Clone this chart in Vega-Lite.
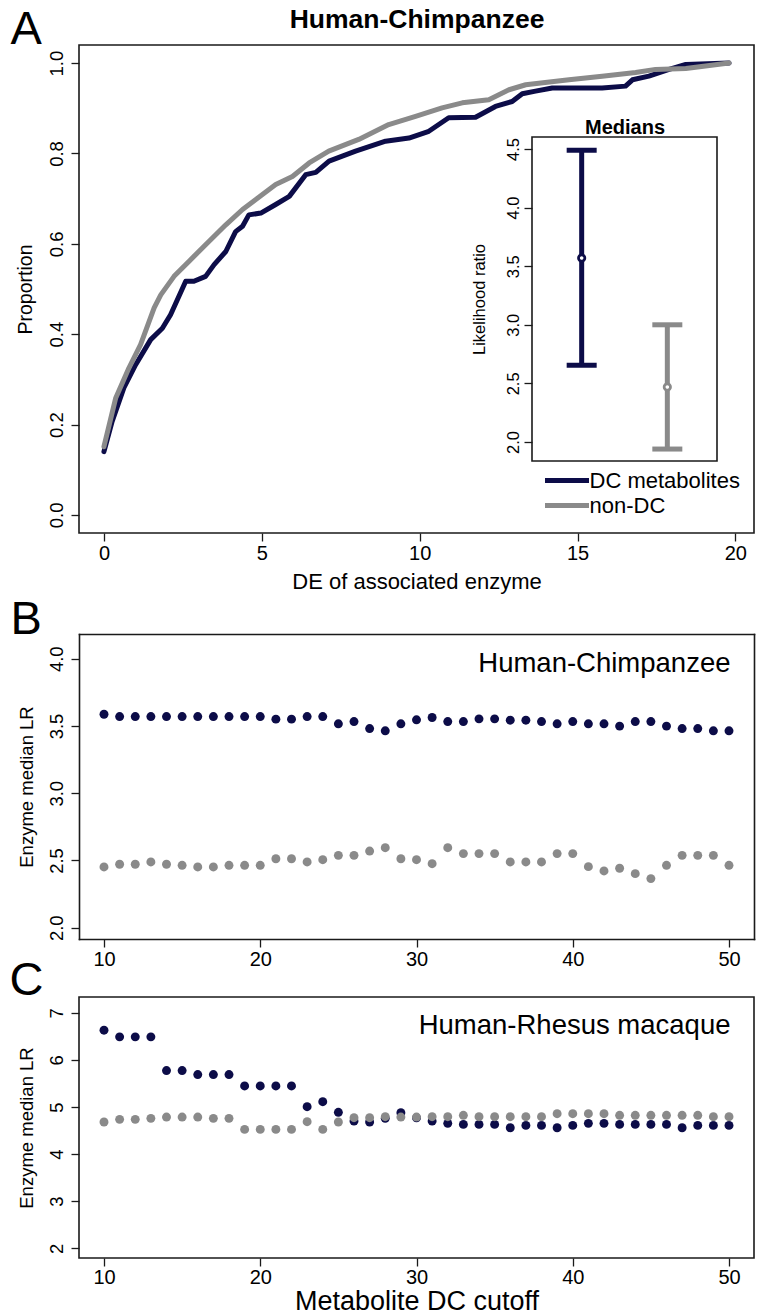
{
  "$schema": "https://vega.github.io/schema/vega-lite/v6.json",
  "background": "white",
  "padding": {"left": 8, "top": 4, "right": 6, "bottom": 1},
  "config": {
    "font": "Liberation Sans",
    "view": {"stroke": "#1a1a1a", "strokeWidth": 1.6},
    "axis": {"domain": false, "domainColor": "#1a1a1a", "domainWidth": 1.6, "domainCap": "square", "grid": false, "ticks": true, "tickColor": "#1a1a1a", "tickWidth": 1.3, "tickSize": 8, "labelColor": "black", "titleColor": "black", "labelFont": "Liberation Sans", "titleFont": "Liberation Sans", "titleFontWeight": "normal"},
    "legend": {"labelFont": "Liberation Sans", "labelColor": "black"}
  },
  "datasets": {
    "ecdf": [
      {"group": "DC metabolites", "de": 0, "prop": 0.140},
      {"group": "DC metabolites", "de": 0.26, "prop": 0.207},
      {"group": "DC metabolites", "de": 0.63, "prop": 0.281},
      {"group": "DC metabolites", "de": 1.0, "prop": 0.332},
      {"group": "DC metabolites", "de": 1.48, "prop": 0.388},
      {"group": "DC metabolites", "de": 1.85, "prop": 0.413},
      {"group": "DC metabolites", "de": 2.11, "prop": 0.443},
      {"group": "DC metabolites", "de": 2.59, "prop": 0.517},
      {"group": "DC metabolites", "de": 2.85, "prop": 0.517},
      {"group": "DC metabolites", "de": 3.22, "prop": 0.528},
      {"group": "DC metabolites", "de": 3.49, "prop": 0.554},
      {"group": "DC metabolites", "de": 3.86, "prop": 0.583},
      {"group": "DC metabolites", "de": 4.17, "prop": 0.627},
      {"group": "DC metabolites", "de": 4.39, "prop": 0.639},
      {"group": "DC metabolites", "de": 4.59, "prop": 0.664},
      {"group": "DC metabolites", "de": 4.97, "prop": 0.668},
      {"group": "DC metabolites", "de": 5.44, "prop": 0.687},
      {"group": "DC metabolites", "de": 5.87, "prop": 0.705},
      {"group": "DC metabolites", "de": 6.39, "prop": 0.753},
      {"group": "DC metabolites", "de": 6.71, "prop": 0.758},
      {"group": "DC metabolites", "de": 7.13, "prop": 0.783},
      {"group": "DC metabolites", "de": 7.97, "prop": 0.805},
      {"group": "DC metabolites", "de": 8.92, "prop": 0.827},
      {"group": "DC metabolites", "de": 9.66, "prop": 0.834},
      {"group": "DC metabolites", "de": 10.29, "prop": 0.849},
      {"group": "DC metabolites", "de": 10.92, "prop": 0.879},
      {"group": "DC metabolites", "de": 11.77, "prop": 0.880},
      {"group": "DC metabolites", "de": 12.40, "prop": 0.904},
      {"group": "DC metabolites", "de": 12.93, "prop": 0.915},
      {"group": "DC metabolites", "de": 13.25, "prop": 0.932},
      {"group": "DC metabolites", "de": 13.67, "prop": 0.938},
      {"group": "DC metabolites", "de": 14.20, "prop": 0.945},
      {"group": "DC metabolites", "de": 15.78, "prop": 0.945},
      {"group": "DC metabolites", "de": 16.52, "prop": 0.949},
      {"group": "DC metabolites", "de": 16.74, "prop": 0.963},
      {"group": "DC metabolites", "de": 17.26, "prop": 0.971},
      {"group": "DC metabolites", "de": 17.90, "prop": 0.986},
      {"group": "DC metabolites", "de": 18.43, "prop": 0.997},
      {"group": "DC metabolites", "de": 19.80, "prop": 1.0},
      {"group": "non-DC", "de": 0, "prop": 0.151},
      {"group": "non-DC", "de": 0.37, "prop": 0.258},
      {"group": "non-DC", "de": 0.79, "prop": 0.325},
      {"group": "non-DC", "de": 1.16, "prop": 0.377},
      {"group": "non-DC", "de": 1.59, "prop": 0.458},
      {"group": "non-DC", "de": 1.80, "prop": 0.487},
      {"group": "non-DC", "de": 2.22, "prop": 0.528},
      {"group": "non-DC", "de": 2.69, "prop": 0.561},
      {"group": "non-DC", "de": 3.22, "prop": 0.598},
      {"group": "non-DC", "de": 3.86, "prop": 0.642},
      {"group": "non-DC", "de": 4.39, "prop": 0.676},
      {"group": "non-DC", "de": 5.02, "prop": 0.709},
      {"group": "non-DC", "de": 5.44, "prop": 0.731},
      {"group": "non-DC", "de": 5.97, "prop": 0.749},
      {"group": "non-DC", "de": 6.50, "prop": 0.779},
      {"group": "non-DC", "de": 7.12, "prop": 0.805},
      {"group": "non-DC", "de": 8.07, "prop": 0.831},
      {"group": "non-DC", "de": 9.02, "prop": 0.864},
      {"group": "non-DC", "de": 9.87, "prop": 0.882},
      {"group": "non-DC", "de": 10.71, "prop": 0.901},
      {"group": "non-DC", "de": 11.35, "prop": 0.912},
      {"group": "non-DC", "de": 12.19, "prop": 0.919},
      {"group": "non-DC", "de": 12.83, "prop": 0.941},
      {"group": "non-DC", "de": 13.36, "prop": 0.952},
      {"group": "non-DC", "de": 14.73, "prop": 0.963},
      {"group": "non-DC", "de": 15.78, "prop": 0.971},
      {"group": "non-DC", "de": 16.84, "prop": 0.979},
      {"group": "non-DC", "de": 17.47, "prop": 0.986},
      {"group": "non-DC", "de": 18.43, "prop": 0.988},
      {"group": "non-DC", "de": 19.80, "prop": 1.0}
    ],
    "medians": [
      {"group": "DC metabolites", "pos": 1, "med": 3.57, "lo": 2.655, "hi": 4.49},
      {"group": "non-DC", "pos": 2, "med": 2.47, "lo": 1.94, "hi": 3.0}
    ],
    "panelB": [
      {"cutoff": 10, "group": "DC metabolites", "lr": 3.587},
      {"cutoff": 11, "group": "DC metabolites", "lr": 3.570},
      {"cutoff": 12, "group": "DC metabolites", "lr": 3.570},
      {"cutoff": 13, "group": "DC metabolites", "lr": 3.570},
      {"cutoff": 14, "group": "DC metabolites", "lr": 3.570},
      {"cutoff": 15, "group": "DC metabolites", "lr": 3.570},
      {"cutoff": 16, "group": "DC metabolites", "lr": 3.570},
      {"cutoff": 17, "group": "DC metabolites", "lr": 3.570},
      {"cutoff": 18, "group": "DC metabolites", "lr": 3.570},
      {"cutoff": 19, "group": "DC metabolites", "lr": 3.570},
      {"cutoff": 20, "group": "DC metabolites", "lr": 3.570},
      {"cutoff": 21, "group": "DC metabolites", "lr": 3.551},
      {"cutoff": 22, "group": "DC metabolites", "lr": 3.551},
      {"cutoff": 23, "group": "DC metabolites", "lr": 3.570},
      {"cutoff": 24, "group": "DC metabolites", "lr": 3.570},
      {"cutoff": 25, "group": "DC metabolites", "lr": 3.516},
      {"cutoff": 26, "group": "DC metabolites", "lr": 3.533},
      {"cutoff": 27, "group": "DC metabolites", "lr": 3.481},
      {"cutoff": 28, "group": "DC metabolites", "lr": 3.464},
      {"cutoff": 29, "group": "DC metabolites", "lr": 3.516},
      {"cutoff": 30, "group": "DC metabolites", "lr": 3.546},
      {"cutoff": 31, "group": "DC metabolites", "lr": 3.563},
      {"cutoff": 32, "group": "DC metabolites", "lr": 3.533},
      {"cutoff": 33, "group": "DC metabolites", "lr": 3.533},
      {"cutoff": 34, "group": "DC metabolites", "lr": 3.553},
      {"cutoff": 35, "group": "DC metabolites", "lr": 3.553},
      {"cutoff": 36, "group": "DC metabolites", "lr": 3.543},
      {"cutoff": 37, "group": "DC metabolites", "lr": 3.543},
      {"cutoff": 38, "group": "DC metabolites", "lr": 3.533},
      {"cutoff": 39, "group": "DC metabolites", "lr": 3.516},
      {"cutoff": 40, "group": "DC metabolites", "lr": 3.533},
      {"cutoff": 41, "group": "DC metabolites", "lr": 3.516},
      {"cutoff": 42, "group": "DC metabolites", "lr": 3.516},
      {"cutoff": 43, "group": "DC metabolites", "lr": 3.499},
      {"cutoff": 44, "group": "DC metabolites", "lr": 3.533},
      {"cutoff": 45, "group": "DC metabolites", "lr": 3.533},
      {"cutoff": 46, "group": "DC metabolites", "lr": 3.499},
      {"cutoff": 47, "group": "DC metabolites", "lr": 3.481},
      {"cutoff": 48, "group": "DC metabolites", "lr": 3.481},
      {"cutoff": 49, "group": "DC metabolites", "lr": 3.464},
      {"cutoff": 50, "group": "DC metabolites", "lr": 3.464},
      {"cutoff": 10, "group": "non-DC", "lr": 2.452},
      {"cutoff": 11, "group": "non-DC", "lr": 2.472},
      {"cutoff": 12, "group": "non-DC", "lr": 2.472},
      {"cutoff": 13, "group": "non-DC", "lr": 2.489},
      {"cutoff": 14, "group": "non-DC", "lr": 2.472},
      {"cutoff": 15, "group": "non-DC", "lr": 2.464},
      {"cutoff": 16, "group": "non-DC", "lr": 2.452},
      {"cutoff": 17, "group": "non-DC", "lr": 2.452},
      {"cutoff": 18, "group": "non-DC", "lr": 2.464},
      {"cutoff": 19, "group": "non-DC", "lr": 2.464},
      {"cutoff": 20, "group": "non-DC", "lr": 2.464},
      {"cutoff": 21, "group": "non-DC", "lr": 2.513},
      {"cutoff": 22, "group": "non-DC", "lr": 2.513},
      {"cutoff": 23, "group": "non-DC", "lr": 2.489},
      {"cutoff": 24, "group": "non-DC", "lr": 2.506},
      {"cutoff": 25, "group": "non-DC", "lr": 2.538},
      {"cutoff": 26, "group": "non-DC", "lr": 2.538},
      {"cutoff": 27, "group": "non-DC", "lr": 2.570},
      {"cutoff": 28, "group": "non-DC", "lr": 2.595},
      {"cutoff": 29, "group": "non-DC", "lr": 2.513},
      {"cutoff": 30, "group": "non-DC", "lr": 2.506},
      {"cutoff": 31, "group": "non-DC", "lr": 2.476},
      {"cutoff": 32, "group": "non-DC", "lr": 2.595},
      {"cutoff": 33, "group": "non-DC", "lr": 2.551},
      {"cutoff": 34, "group": "non-DC", "lr": 2.551},
      {"cutoff": 35, "group": "non-DC", "lr": 2.551},
      {"cutoff": 36, "group": "non-DC", "lr": 2.489},
      {"cutoff": 37, "group": "non-DC", "lr": 2.489},
      {"cutoff": 38, "group": "non-DC", "lr": 2.489},
      {"cutoff": 39, "group": "non-DC", "lr": 2.551},
      {"cutoff": 40, "group": "non-DC", "lr": 2.551},
      {"cutoff": 41, "group": "non-DC", "lr": 2.454},
      {"cutoff": 42, "group": "non-DC", "lr": 2.422},
      {"cutoff": 43, "group": "non-DC", "lr": 2.442},
      {"cutoff": 44, "group": "non-DC", "lr": 2.402},
      {"cutoff": 45, "group": "non-DC", "lr": 2.365},
      {"cutoff": 46, "group": "non-DC", "lr": 2.464},
      {"cutoff": 47, "group": "non-DC", "lr": 2.538},
      {"cutoff": 48, "group": "non-DC", "lr": 2.538},
      {"cutoff": 49, "group": "non-DC", "lr": 2.538},
      {"cutoff": 50, "group": "non-DC", "lr": 2.464}
    ],
    "panelC": [
      {"cutoff": 10, "group": "DC metabolites", "lr": 6.631},
      {"cutoff": 11, "group": "DC metabolites", "lr": 6.489},
      {"cutoff": 12, "group": "DC metabolites", "lr": 6.489},
      {"cutoff": 13, "group": "DC metabolites", "lr": 6.489},
      {"cutoff": 14, "group": "DC metabolites", "lr": 5.773},
      {"cutoff": 15, "group": "DC metabolites", "lr": 5.773},
      {"cutoff": 16, "group": "DC metabolites", "lr": 5.688},
      {"cutoff": 17, "group": "DC metabolites", "lr": 5.688},
      {"cutoff": 18, "group": "DC metabolites", "lr": 5.688},
      {"cutoff": 19, "group": "DC metabolites", "lr": 5.447},
      {"cutoff": 20, "group": "DC metabolites", "lr": 5.447},
      {"cutoff": 21, "group": "DC metabolites", "lr": 5.447},
      {"cutoff": 22, "group": "DC metabolites", "lr": 5.447},
      {"cutoff": 23, "group": "DC metabolites", "lr": 5.007},
      {"cutoff": 24, "group": "DC metabolites", "lr": 5.113},
      {"cutoff": 25, "group": "DC metabolites", "lr": 4.887},
      {"cutoff": 26, "group": "DC metabolites", "lr": 4.702},
      {"cutoff": 27, "group": "DC metabolites", "lr": 4.681},
      {"cutoff": 28, "group": "DC metabolites", "lr": 4.760},
      {"cutoff": 29, "group": "DC metabolites", "lr": 4.879},
      {"cutoff": 30, "group": "DC metabolites", "lr": 4.770},
      {"cutoff": 31, "group": "DC metabolites", "lr": 4.702},
      {"cutoff": 32, "group": "DC metabolites", "lr": 4.653},
      {"cutoff": 33, "group": "DC metabolites", "lr": 4.631},
      {"cutoff": 34, "group": "DC metabolites", "lr": 4.631},
      {"cutoff": 35, "group": "DC metabolites", "lr": 4.631},
      {"cutoff": 36, "group": "DC metabolites", "lr": 4.560},
      {"cutoff": 37, "group": "DC metabolites", "lr": 4.610},
      {"cutoff": 38, "group": "DC metabolites", "lr": 4.610},
      {"cutoff": 39, "group": "DC metabolites", "lr": 4.560},
      {"cutoff": 40, "group": "DC metabolites", "lr": 4.610},
      {"cutoff": 41, "group": "DC metabolites", "lr": 4.653},
      {"cutoff": 42, "group": "DC metabolites", "lr": 4.653},
      {"cutoff": 43, "group": "DC metabolites", "lr": 4.631},
      {"cutoff": 44, "group": "DC metabolites", "lr": 4.631},
      {"cutoff": 45, "group": "DC metabolites", "lr": 4.631},
      {"cutoff": 46, "group": "DC metabolites", "lr": 4.631},
      {"cutoff": 47, "group": "DC metabolites", "lr": 4.560},
      {"cutoff": 48, "group": "DC metabolites", "lr": 4.610},
      {"cutoff": 49, "group": "DC metabolites", "lr": 4.610},
      {"cutoff": 50, "group": "DC metabolites", "lr": 4.610},
      {"cutoff": 10, "group": "non-DC", "lr": 4.681},
      {"cutoff": 11, "group": "non-DC", "lr": 4.738},
      {"cutoff": 12, "group": "non-DC", "lr": 4.738},
      {"cutoff": 13, "group": "non-DC", "lr": 4.759},
      {"cutoff": 14, "group": "non-DC", "lr": 4.787},
      {"cutoff": 15, "group": "non-DC", "lr": 4.787},
      {"cutoff": 16, "group": "non-DC", "lr": 4.787},
      {"cutoff": 17, "group": "non-DC", "lr": 4.759},
      {"cutoff": 18, "group": "non-DC", "lr": 4.759},
      {"cutoff": 19, "group": "non-DC", "lr": 4.525},
      {"cutoff": 20, "group": "non-DC", "lr": 4.525},
      {"cutoff": 21, "group": "non-DC", "lr": 4.525},
      {"cutoff": 22, "group": "non-DC", "lr": 4.525},
      {"cutoff": 23, "group": "non-DC", "lr": 4.688},
      {"cutoff": 24, "group": "non-DC", "lr": 4.525},
      {"cutoff": 25, "group": "non-DC", "lr": 4.681},
      {"cutoff": 26, "group": "non-DC", "lr": 4.773},
      {"cutoff": 27, "group": "non-DC", "lr": 4.773},
      {"cutoff": 28, "group": "non-DC", "lr": 4.794},
      {"cutoff": 29, "group": "non-DC", "lr": 4.787},
      {"cutoff": 30, "group": "non-DC", "lr": 4.787},
      {"cutoff": 31, "group": "non-DC", "lr": 4.794},
      {"cutoff": 32, "group": "non-DC", "lr": 4.794},
      {"cutoff": 33, "group": "non-DC", "lr": 4.823},
      {"cutoff": 34, "group": "non-DC", "lr": 4.794},
      {"cutoff": 35, "group": "non-DC", "lr": 4.794},
      {"cutoff": 36, "group": "non-DC", "lr": 4.794},
      {"cutoff": 37, "group": "non-DC", "lr": 4.794},
      {"cutoff": 38, "group": "non-DC", "lr": 4.794},
      {"cutoff": 39, "group": "non-DC", "lr": 4.858},
      {"cutoff": 40, "group": "non-DC", "lr": 4.858},
      {"cutoff": 41, "group": "non-DC", "lr": 4.858},
      {"cutoff": 42, "group": "non-DC", "lr": 4.858},
      {"cutoff": 43, "group": "non-DC", "lr": 4.823},
      {"cutoff": 44, "group": "non-DC", "lr": 4.823},
      {"cutoff": 45, "group": "non-DC", "lr": 4.823},
      {"cutoff": 46, "group": "non-DC", "lr": 4.823},
      {"cutoff": 47, "group": "non-DC", "lr": 4.823},
      {"cutoff": 48, "group": "non-DC", "lr": 4.823},
      {"cutoff": 49, "group": "non-DC", "lr": 4.794},
      {"cutoff": 50, "group": "non-DC", "lr": 4.794}
    ]
  },
  "bounds": "flush",
  "spacing": 58,
  "vconcat": [
    {
      "width": 675,
      "height": 488,
      "layer": [
        {
          "data": {"name": "ecdf"},
          "transform": [{"filter": "datum.group === 'DC metabolites'"}],
          "mark": {"type": "line", "strokeWidth": 5, "strokeCap": "round", "strokeJoin": "round"},
          "encoding": {
            "x": {"field": "de", "type": "quantitative", "scale": {"domain": [-0.79, 20.59], "nice": false, "zero": false},
              "axis": {"orient": "bottom", "values": [0, 5, 10, 15, 20], "title": "DE of associated enzyme", "titleFontSize": 22, "titleY": 55, "titleBaseline": "alphabetic", "labelFontSize": 20, "labelPadding": 18, "labelBaseline": "alphabetic"}},
            "y": {"field": "prop", "type": "quantitative", "scale": {"domain": [-0.04, 1.04], "nice": false, "zero": false},
              "axis": {"orient": "left", "values": [0, 0.2, 0.4, 0.6, 0.8, 1.0], "format": ".1f", "labelFontSize": 18.5, "labelAngle": -90, "labelAlign": "center", "labelBaseline": "alphabetic", "labelPadding": 9, "title": "Proportion", "titleFontSize": 19.5, "titleAngle": -90, "titleX": -48, "titleY": 244, "titleAlign": "center", "titleBaseline": "alphabetic"}},
            "color": {"field": "group", "type": "nominal",
              "scale": {"domain": ["DC metabolites", "non-DC"], "range": ["#0c0c48", "#8a8a8a"]},
              "legend": {"title": null, "orient": "none", "legendX": 466, "legendY": 422, "padding": 0, "symbolType": "M-2,0L2,0", "symbolSize": 484, "symbolOffset": 8.5, "symbolStrokeWidth": 5, "labelFontSize": 22, "labelOffset": 9, "rowPadding": 0}}
          }
        },
        {
          "data": {"name": "ecdf"},
          "transform": [{"filter": "datum.group === 'non-DC'"}],
          "mark": {"type": "line", "strokeWidth": 5, "strokeCap": "round", "strokeJoin": "round"},
          "encoding": {
            "x": {"field": "de", "type": "quantitative", "scale": {"domain": [-0.79, 20.59], "nice": false, "zero": false},
              "axis": {"orient": "top", "labels": false, "ticks": false, "domain": false, "title": "Human-Chimpanzee", "titleFontSize": 26.5, "titleFontWeight": "bold", "titleY": -18, "titleBaseline": "alphabetic"}},
            "y": {"field": "prop", "type": "quantitative", "scale": {"domain": [-0.04, 1.04], "nice": false, "zero": false},
              "axis": {"orient": "left", "labels": false, "ticks": false, "domain": false, "title": "A", "titleFontSize": 47, "titleAngle": 0, "titleX": -69, "titleY": -2, "titleAlign": "left", "titleBaseline": "alphabetic"}},
            "color": {"field": "group", "type": "nominal", "legend": null}
          }
        },
        {
          "data": {"values": [{}]},
          "mark": {"type": "rect", "filled": false, "stroke": "#1a1a1a", "strokeWidth": 1.6},
          "encoding": {
            "x": {"datum": 0.42, "type": "quantitative", "scale": {"domain": [0.42, 2.58], "range": [453, 638], "nice": false, "zero": false}, "axis": null},
            "x2": {"datum": 2.58},
            "y": {"datum": 1.838, "type": "quantitative", "scale": {"domain": [1.838, 4.602], "range": [416, 92], "nice": false, "zero": false}, "axis": null},
            "y2": {"datum": 4.602}
          }
        },
        {
          "data": {"name": "medians"},
          "mark": {"type": "rule", "strokeWidth": 5},
          "encoding": {
            "x": {"field": "pos", "type": "quantitative", "scale": {"domain": [0.42, 2.58], "range": [453, 638], "nice": false, "zero": false},
              "axis": {"orient": "top", "offset": -92, "labels": false, "ticks": false, "domain": false, "title": "Medians", "titleFontSize": 20, "titleFontWeight": "bold", "titleY": -4, "titleBaseline": "alphabetic"}},
            "y": {"field": "lo", "type": "quantitative", "scale": {"domain": [1.838, 4.602], "range": [416, 92], "nice": false, "zero": false},
              "axis": {"orient": "left", "offset": -453, "values": [2.0, 2.5, 3.0, 3.5, 4.0, 4.5], "format": ".1f", "labelFontSize": 16.5, "labelAngle": -90, "labelAlign": "center", "labelBaseline": "alphabetic", "labelPadding": 6, "title": "Likelihood ratio", "titleFontSize": 16.5, "titleAngle": -90, "titleX": -48, "titleY": 254, "titleAlign": "center", "titleBaseline": "alphabetic"}},
            "y2": {"field": "hi"},
            "color": {"field": "group", "type": "nominal", "legend": null}
          }
        },
        {
          "data": {"name": "medians"},
          "mark": {"type": "tick", "orient": "horizontal", "size": 30, "thickness": 5, "opacity": 1},
          "encoding": {
            "x": {"field": "pos", "type": "quantitative", "scale": {"domain": [0.42, 2.58], "range": [453, 638], "nice": false, "zero": false}, "axis": null},
            "y": {"field": "lo", "type": "quantitative", "scale": {"domain": [1.838, 4.602], "range": [416, 92], "nice": false, "zero": false}, "axis": null},
            "color": {"field": "group", "type": "nominal", "legend": null}
          }
        },
        {
          "data": {"name": "medians"},
          "mark": {"type": "tick", "orient": "horizontal", "size": 30, "thickness": 5, "opacity": 1},
          "encoding": {
            "x": {"field": "pos", "type": "quantitative", "scale": {"domain": [0.42, 2.58], "range": [453, 638], "nice": false, "zero": false}, "axis": null},
            "y": {"field": "hi", "type": "quantitative", "scale": {"domain": [1.838, 4.602], "range": [416, 92], "nice": false, "zero": false}, "axis": null},
            "color": {"field": "group", "type": "nominal", "legend": null}
          }
        },
        {
          "data": {"name": "medians"},
          "mark": {"type": "point", "shape": "circle", "filled": false, "fill": "white", "strokeWidth": 2.8, "size": 40, "opacity": 1},
          "encoding": {
            "x": {"field": "pos", "type": "quantitative", "scale": {"domain": [0.42, 2.58], "range": [453, 638], "nice": false, "zero": false}, "axis": null},
            "y": {"field": "med", "type": "quantitative", "scale": {"domain": [1.838, 4.602], "range": [416, 92], "nice": false, "zero": false}, "axis": null},
            "color": {"field": "group", "type": "nominal", "legend": null}
          }
        }
      ],
      "resolve": {"scale": {"x": "independent", "y": "independent"}, "axis": {"x": "independent", "y": "independent"}}
    },
    {
      "width": 675,
      "height": 348,
      "view": {"stroke": null},
      "data": {"name": "panelB"},
      "layer": [
        {
          "transform": [{"filter": "datum.group === 'DC metabolites'"}],
          "mark": {"type": "circle", "size": 80, "opacity": 1},
          "encoding": {
            "x": {"field": "cutoff", "type": "quantitative", "scale": {"domain": [8.4, 51.6], "nice": false, "zero": false},
              "axis": {"orient": "bottom", "domain": true, "values": [10, 20, 30, 40, 50], "title": null, "labelFontSize": 20, "labelPadding": 18, "labelBaseline": "alphabetic"}},
            "y": {"field": "lr", "type": "quantitative", "scale": {"domain": [1.916, 4.184], "range": [348, 43], "nice": false, "zero": false},
              "axis": {"orient": "left", "domain": true, "values": [2.0, 2.5, 3.0, 3.5, 4.0], "format": ".1f", "labelFontSize": 18.5, "labelAngle": -90, "labelAlign": "center", "labelBaseline": "alphabetic", "labelPadding": 9, "title": "Enzyme median LR", "titleFontSize": 18.5, "titleAngle": -90, "titleX": -47, "titleY": 195.5, "titleAlign": "center", "titleBaseline": "alphabetic"}},
            "color": {"field": "group", "type": "nominal", "scale": {"domain": ["DC metabolites", "non-DC"], "range": ["#0c0c48", "#8a8a8a"]}, "legend": null}
          }
        },
        {
          "transform": [{"filter": "datum.group === 'non-DC'"}],
          "mark": {"type": "circle", "size": 80, "opacity": 1},
          "encoding": {
            "x": {"field": "cutoff", "type": "quantitative", "scale": {"domain": [8.4, 51.6], "nice": false, "zero": false},
              "axis": {"orient": "top", "offset": -43, "domain": true, "labels": false, "ticks": false, "title": "Human-Chimpanzee", "titleFontSize": 27.5, "titleX": 651, "titleY": 37, "titleAlign": "right", "titleBaseline": "alphabetic"}},
            "y": {"field": "lr", "type": "quantitative", "scale": {"domain": [1.916, 4.184], "range": [348, 43], "nice": false, "zero": false},
              "axis": {"orient": "right", "domain": true, "labels": false, "ticks": false, "title": "B", "titleFontSize": 47, "titleAngle": 0, "titleX": -744, "titleY": 42, "titleAlign": "left", "titleBaseline": "alphabetic"}},
            "color": {"field": "group", "type": "nominal", "scale": {"domain": ["DC metabolites", "non-DC"], "range": ["#0c0c48", "#8a8a8a"]}, "legend": null}
          }
        }
      ],
      "resolve": {"axis": {"x": "independent", "y": "independent"}}
    },
    {
      "width": 675,
      "height": 261,
      "data": {"name": "panelC"},
      "layer": [
        {
          "transform": [{"filter": "datum.group === 'DC metabolites'"}],
          "mark": {"type": "circle", "size": 80, "opacity": 1},
          "encoding": {
            "x": {"field": "cutoff", "type": "quantitative", "scale": {"domain": [8.4, 51.6], "nice": false, "zero": false},
              "axis": {"orient": "bottom", "values": [10, 20, 30, 40, 50], "title": "Metabolite DC cutoff", "titleFontSize": 27, "titleY": 51, "titleBaseline": "alphabetic", "labelFontSize": 20, "labelPadding": 17, "labelBaseline": "alphabetic"}},
            "y": {"field": "lr", "type": "quantitative", "scale": {"domain": [1.795, 7.335], "nice": false, "zero": false},
              "axis": {"orient": "left", "values": [2, 3, 4, 5, 6, 7], "format": "d", "labelFontSize": 18.5, "labelAngle": -90, "labelAlign": "center", "labelBaseline": "alphabetic", "labelPadding": 9, "title": "Enzyme median LR", "titleFontSize": 18.5, "titleAngle": -90, "titleX": -47, "titleY": 130.5, "titleAlign": "center", "titleBaseline": "alphabetic"}},
            "color": {"field": "group", "type": "nominal", "scale": {"domain": ["DC metabolites", "non-DC"], "range": ["#0c0c48", "#8a8a8a"]}, "legend": null}
          }
        },
        {
          "transform": [{"filter": "datum.group === 'non-DC'"}],
          "mark": {"type": "circle", "size": 80, "opacity": 1},
          "encoding": {
            "x": {"field": "cutoff", "type": "quantitative", "scale": {"domain": [8.4, 51.6], "nice": false, "zero": false},
              "axis": {"orient": "top", "domain": false, "labels": false, "ticks": false, "title": "Human-Rhesus macaque", "titleFontSize": 27.5, "titleX": 651, "titleY": 36, "titleAlign": "right", "titleBaseline": "alphabetic"}},
            "y": {"field": "lr", "type": "quantitative", "scale": {"domain": [1.795, 7.335], "nice": false, "zero": false},
              "axis": {"orient": "right", "domain": false, "labels": false, "ticks": false, "title": "C", "titleFontSize": 47, "titleAngle": 0, "titleX": -745, "titleY": -3, "titleAlign": "left", "titleBaseline": "alphabetic"}},
            "color": {"field": "group", "type": "nominal", "scale": {"domain": ["DC metabolites", "non-DC"], "range": ["#0c0c48", "#8a8a8a"]}, "legend": null}
          }
        }
      ],
      "resolve": {"axis": {"x": "independent", "y": "independent"}}
    }
  ]
}
